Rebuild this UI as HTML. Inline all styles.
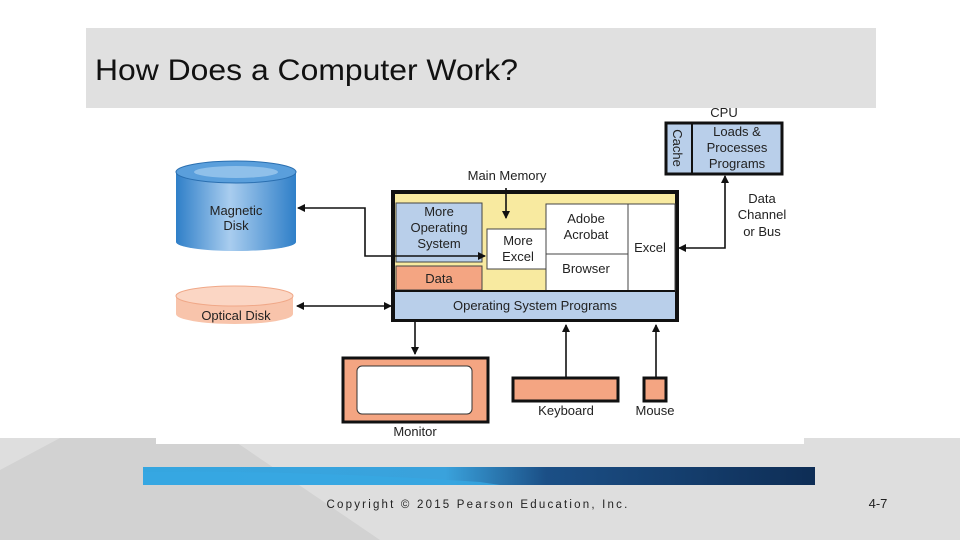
<!DOCTYPE html>
<html><head><meta charset="utf-8"><style>
body{margin:0;width:960px;height:540px;overflow:hidden;background:#fff;font-family:"Liberation Sans",sans-serif}
</style></head><body>
<svg width="960" height="540" viewBox="0 0 960 540" xmlns="http://www.w3.org/2000/svg" font-family="Liberation Sans, DejaVu Sans, sans-serif">
<defs>
<marker id="ah" markerWidth="8" markerHeight="8" refX="7" refY="4" orient="auto" markerUnits="userSpaceOnUse"><path d="M0,0 L8,4 L0,8 z" fill="#111"/></marker>
<marker id="as" markerWidth="8" markerHeight="8" refX="1" refY="4" orient="auto" markerUnits="userSpaceOnUse"><path d="M8,0 L0,4 L8,8 z" fill="#111"/></marker>
<linearGradient id="blu" x1="0" x2="1"><stop offset="0" stop-color="#2f7fc8"/><stop offset="0.45" stop-color="#a9cdef"/><stop offset="1" stop-color="#2f7fc8"/></linearGradient>
<linearGradient id="band" x1="0" x2="1"><stop offset="0" stop-color="#35a6e0"/><stop offset="0.45" stop-color="#3aa2dc"/><stop offset="0.6" stop-color="#1b4f86"/><stop offset="1" stop-color="#0e2d55"/></linearGradient>
</defs>
<rect x="0" y="438" width="960" height="102" fill="#dedede"/>
<polygon points="0,540 0,470 60,438 230,438 380,540" fill="#d2d2d2"/>
<rect x="86" y="28" width="790" height="80" fill="#e0e0e0"/>
<text x="95" y="80" font-size="30" fill="#111" textLength="423" lengthAdjust="spacingAndGlyphs">How Does a Computer Work?</text>
<rect x="156" y="108" width="648" height="336" fill="#fff"/>
<rect x="143" y="467" width="672" height="18" fill="url(#band)"/>
<path d="M143,472 Q300,470 480,482 L500,485 L143,485z" fill="#37a8e2" opacity="0.8"/>
<text x="478" y="508" font-size="11.5" fill="#222" text-anchor="middle" letter-spacing="2.2">Copyright © 2015 Pearson Education, Inc.</text>
<text x="878" y="508" font-size="13" fill="#222" text-anchor="middle">4-7</text>

<rect x="176" y="172" width="120" height="70" fill="url(#blu)"/>
<ellipse cx="236" cy="242" rx="60" ry="9" fill="url(#blu)"/>
<ellipse cx="236" cy="172" rx="60" ry="11" fill="#5a9fdc" stroke="#2a6fb0"/>
<ellipse cx="236" cy="172" rx="42" ry="6" fill="#8fc0ea"/>
<text x="236" y="215" font-size="13" text-anchor="middle" fill="#222">Magnetic</text>
<text x="236" y="230" font-size="13" text-anchor="middle" fill="#222">Disk</text>
<rect x="176" y="296" width="117" height="18" fill="#f8c4ab"/>
<ellipse cx="234.5" cy="314" rx="58.5" ry="10" fill="#f8c4ab"/>
<ellipse cx="234.5" cy="296" rx="58.5" ry="10" fill="#fbd6c4" stroke="#f0a888"/>
<text x="236" y="320" font-size="13" text-anchor="middle" fill="#222">Optical Disk</text>

<rect x="393" y="192" width="284" height="128" fill="#f8eaa0" stroke="#111" stroke-width="4"/>
<rect x="396" y="203" width="86" height="59" fill="#b9cfea" stroke="#444"/>
<text x="439" y="216" font-size="13" text-anchor="middle" fill="#222">More</text>
<text x="439" y="232" font-size="13" text-anchor="middle" fill="#222">Operating</text>
<text x="439" y="248" font-size="13" text-anchor="middle" fill="#222">System</text>
<rect x="396" y="266" width="86" height="24" fill="#f4a582" stroke="#444"/>
<text x="439" y="283" font-size="13" text-anchor="middle" fill="#222">Data</text>
<rect x="487" y="229" width="59" height="40" fill="#fff" stroke="#444"/>
<text x="518" y="245" font-size="13" text-anchor="middle" fill="#222">More</text>
<text x="518" y="261" font-size="13" text-anchor="middle" fill="#222">Excel</text>
<rect x="546" y="204" width="82" height="87" fill="#fff" stroke="#444"/>
<line x1="546" y1="254" x2="628" y2="254" stroke="#444"/>
<text x="586" y="223" font-size="13" text-anchor="middle" fill="#222">Adobe</text>
<text x="586" y="239" font-size="13" text-anchor="middle" fill="#222">Acrobat</text>
<text x="586" y="273" font-size="13" text-anchor="middle" fill="#222">Browser</text>
<rect x="628" y="204" width="47" height="87" fill="#fff" stroke="#444"/>
<text x="650" y="252" font-size="13" text-anchor="middle" fill="#222">Excel</text>
<rect x="395" y="291" width="280" height="28" fill="#b9cfea"/>
<line x1="395" y1="291" x2="675" y2="291" stroke="#111" stroke-width="2"/>
<text x="535" y="310" font-size="13" text-anchor="middle" fill="#222">Operating System Programs</text>
<text x="507" y="180" font-size="13" text-anchor="middle" fill="#222">Main Memory</text>

<text x="724" y="117" font-size="13" text-anchor="middle" fill="#222">CPU</text>
<rect x="666" y="123" width="116" height="51" fill="#b9cfea" stroke="#111" stroke-width="3"/>
<line x1="692" y1="123" x2="692" y2="174" stroke="#111" stroke-width="2"/>
<text transform="translate(673,148) rotate(90)" font-size="13" text-anchor="middle" fill="#222">Cache</text>
<text x="737" y="136" font-size="13" text-anchor="middle" fill="#222">Loads &amp;</text>
<text x="737" y="152" font-size="13" text-anchor="middle" fill="#222">Processes</text>
<text x="737" y="168" font-size="13" text-anchor="middle" fill="#222">Programs</text>
<text x="762" y="203" font-size="13" text-anchor="middle" fill="#222">Data</text>
<text x="762" y="219" font-size="13" text-anchor="middle" fill="#222">Channel</text>
<text x="762" y="236" font-size="13" text-anchor="middle" fill="#222">or Bus</text>

<rect x="343" y="358" width="145" height="64" fill="#f4a582" stroke="#111" stroke-width="3"/>
<rect x="357" y="366" width="115" height="48" rx="5" fill="#fff" stroke="#333"/>
<text x="415" y="436" font-size="13" text-anchor="middle" fill="#222">Monitor</text>
<rect x="513" y="378" width="105" height="23" fill="#f4a582" stroke="#111" stroke-width="3"/>
<text x="566" y="415" font-size="13" text-anchor="middle" fill="#222">Keyboard</text>
<rect x="644" y="378" width="22" height="23" fill="#f4a582" stroke="#111" stroke-width="3"/>
<text x="655" y="415" font-size="13" text-anchor="middle" fill="#222">Mouse</text>

<g stroke="#111" stroke-width="1.6" fill="none">
<path d="M485,256 L365,256 L365,208 L298,208" marker-start="url(#as)" marker-end="url(#ah)"/>
<path d="M297,306 L391,306" marker-start="url(#as)" marker-end="url(#ah)"/>
<path d="M506,188 L506,218" marker-end="url(#ah)"/>
<path d="M415,322 L415,354" marker-end="url(#ah)"/>
<path d="M566,377 L566,325" marker-end="url(#ah)"/>
<path d="M656,377 L656,325" marker-end="url(#ah)"/>
<path d="M679,248 L725,248 L725,176" marker-start="url(#as)" marker-end="url(#ah)"/>
</g>
</svg>
</body></html>
